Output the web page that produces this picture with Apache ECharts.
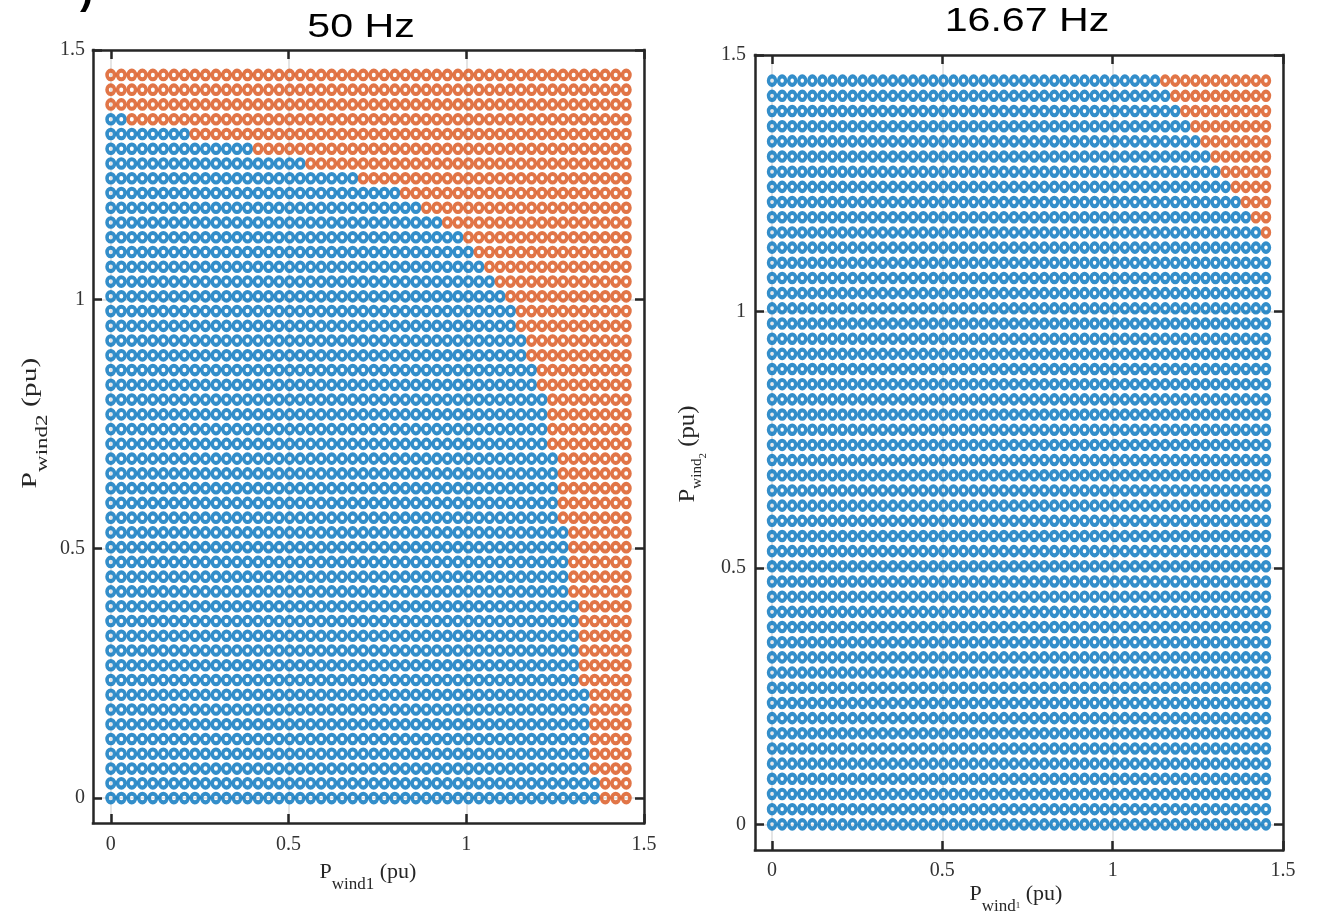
<!DOCTYPE html>
<html>
<head>
<meta charset="utf-8">
<title>50 Hz / 16.67 Hz</title>
<script src="https://cdn.jsdelivr.net/npm/echarts@6.0.0/dist/echarts.min.js"></script>
<style>
  html, body { margin: 0; padding: 0; background: #fff; }
  #main { width: 1317px; height: 918px; }
</style>
</head>
<body>
<div id="main"></div>
<script>
// grid of operating points, same values on both axes (pu)
const gridPu = [
  0, 0.0296, 0.0592, 0.0888, 0.1184, 0.1480, 0.1776, 0.2071, 0.2367, 0.2663,
  0.2959, 0.3255, 0.3551, 0.3847, 0.4143, 0.4439, 0.4735, 0.5031, 0.5327, 0.5622,
  0.5918, 0.6214, 0.6510, 0.6806, 0.7102, 0.7398, 0.7694, 0.7990, 0.8286, 0.8582,
  0.8878, 0.9173, 0.9469, 0.9765, 1.0061, 1.0357, 1.0653, 1.0949, 1.1245, 1.1541,
  1.1837, 1.2133, 1.2429, 1.2724, 1.3020, 1.3316, 1.3612, 1.3908, 1.4204, 1.4500
]
const tickValues = [0, 0.5, 1, 1.5]

// index of the first orange point in each row (row 0 = P_wind2 0), 50 = whole row blue
const orangeFrom50Hz = [
  47, 47, 46, 46, 46, 46, 46, 46, 45, 45,
  45, 45, 45, 45, 44, 44, 44, 44, 44, 43,
  43, 43, 43, 43, 42, 42, 42, 42, 41, 41,
  40, 40, 39, 39, 38, 37, 36, 35, 34, 32,
  30, 28, 24, 19, 14, 8, 2, 0, 0, 0
]
const orangeFrom1667Hz = [
  50, 50, 50, 50, 50, 50, 50, 50, 50, 50,
  50, 50, 50, 50, 50, 50, 50, 50, 50, 50,
  50, 50, 50, 50, 50, 50, 50, 50, 50, 50,
  50, 50, 50, 50, 50, 50, 50, 50, 50, 49,
  48, 47, 46, 45, 44, 43, 42, 41, 40, 39
]

const BLUE = '#0072BD'
const ORANGE = '#D95319'
const INK = '#262626'
const SERIF = '"Liberation Serif", "Times New Roman", serif'

function splitPoints(orangeFrom){
    let blue = [], orange = []
    gridPu.forEach((y, j) => {
        gridPu.forEach((x, i) => {
            (i >= orangeFrom[j] ? orange : blue).push([x, y])
        })
    })
    return {blue, orange}
}

function frameAxis(gridIndex, position, main, labelMargin){
    return {
        type: 'value', gridIndex, position,
        min: -0.05, max: 1.5,
        axisLine: {show: true, onZero: false, lineStyle: {color: INK, width: 2.5, cap: 'square'}},
        axisTick: {show: true, inside: true, length: 9, customValues: tickValues,
                   lineStyle: {color: INK, width: 2.5}},
        axisLabel: {show: main, customValues: tickValues, margin: labelMargin,
                    color: '#333', fontFamily: SERIF, fontSize: 20},
        splitLine: {show: main, lineStyle: {color: '#dcdcdc', width: 1.5}}
    }
}

function dots(points, color, axisIndex, size){
    return {
        type: 'scatter', xAxisIndex: axisIndex, yAxisIndex: axisIndex,
        data: points, symbol: 'circle', symbolSize: size,
        itemStyle: {color: 'transparent', borderColor: color, borderWidth: 3.8},
        emphasis: {disabled: true}, silent: true, animation: false
    }
}

// axis name with subscript, tokens pushed down via their box height
function axisName(x, y, text, rotation, scaleX, sizes){
    let rich = {
        p: {font: sizes[0] + 'px ' + SERIF, height: 50, verticalAlign: 'bottom'},
        s: {font: sizes[1] + 'px ' + SERIF, height: sizes[2], verticalAlign: 'bottom'},
        t: {font: sizes[3] + 'px ' + SERIF, height: sizes[4], verticalAlign: 'bottom'}
    }
    return {
        type: 'text', x, y, rotation, scaleX, silent: true,
        style: {text, fill: INK, textAlign: 'center', textVerticalAlign: 'middle', rich}
    }
}

const left = splitPoints(orangeFrom50Hz)
const right = splitPoints(orangeFrom1667Hz)

const myChart = echarts.init(document.getElementById('main'), null, {renderer: 'canvas'})

myChart.setOption({
    animation: false,
    backgroundColor: '#fff',
    grid: [
        {left: 93, top: 50, width: 551, height: 773},
        {left: 755, top: 55, width: 528, height: 795}
    ],
    xAxis: [
        frameAxis(0, 'bottom', true, 12),
        frameAxis(0, 'top', false, 8),
        frameAxis(1, 'bottom', true, 11),
        frameAxis(1, 'top', false, 8)
    ],
    yAxis: [
        frameAxis(0, 'left', true, 8),
        frameAxis(0, 'right', false, 8),
        frameAxis(1, 'left', true, 9),
        frameAxis(1, 'right', false, 8)
    ],
    series: [
        dots(left.blue, BLUE, 0, [7.5, 8.6]),
        dots(left.orange, ORANGE, 0, [7.5, 8.6]),
        dots(right.blue, BLUE, 2, [7.0, 8.4]),
        dots(right.orange, ORANGE, 2, [7.0, 8.4])
    ],
    graphic: [
        {type: 'text', x: 361, y: 28, scaleX: 1.21, silent: true,
         style: {text: '50 Hz', font: '34px "Liberation Sans", Arial, sans-serif', fill: '#000',
                 textAlign: 'center', textVerticalAlign: 'middle'}},
        {type: 'text', x: 1027, y: 22, scaleX: 1.21, silent: true,
         style: {text: '16.67 Hz', font: '34px "Liberation Sans", Arial, sans-serif', fill: '#000',
                 textAlign: 'center', textVerticalAlign: 'middle'}},
        // cut off panel letter in the corner
        {type: 'text', x: 80, y: -7, silent: true,
         style: {text: ')', font: 'bold 40px "Liberation Sans", Arial, sans-serif', fill: '#000',
                 textAlign: 'left', textVerticalAlign: 'middle'}},
        axisName(368, 872.5, '{p|P}{s|wind1}{p| (pu)}', 0, 1, [22, 17, 25, 9, 20]),
        axisName(30.5, 423, '{p|P}{s|wind2}{p| (pu)}', Math.PI / 2, 1.35, [22, 17, 25, 9, 20]),
        axisName(1016, 894.5, '{p|P}{s|wind}{t|1}{p| (pu)}', 0, 1, [22, 17, 25, 9, 27]),
        axisName(687.5, 454, '{p|P}{s|wind}{t|2}{p| (pu)}', Math.PI / 2, 1.08, [23, 14, 30, 10, 18])
    ]
})
</script>
</body>
</html>
